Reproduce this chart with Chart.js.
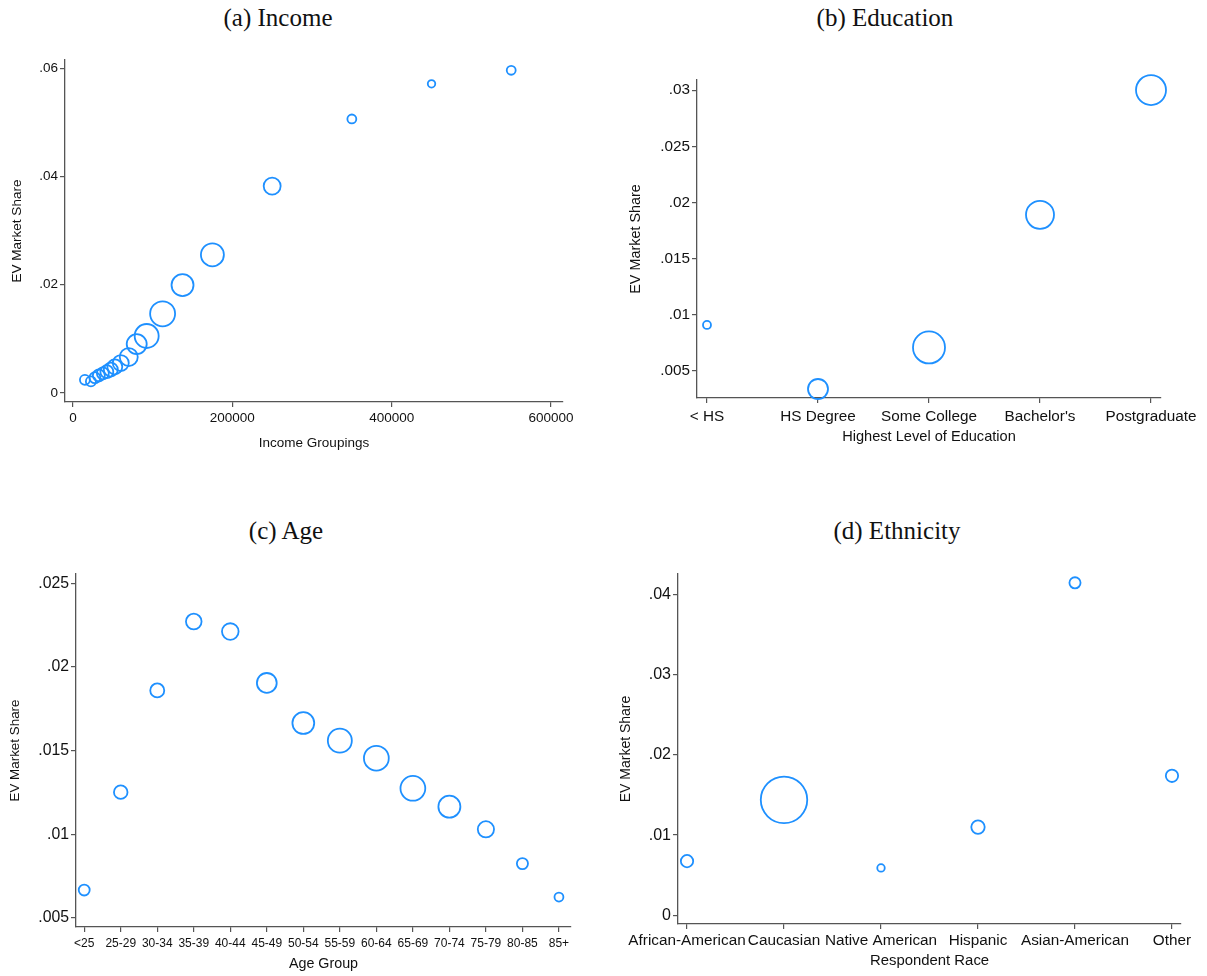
<!DOCTYPE html>
<html>
<head>
<meta charset="utf-8">
<script src="https://cdn.jsdelivr.net/npm/chart.js@4.4.1/dist/chart.umd.min.js"></script>
<style>
  body { margin: 0; background: #fff; width: 1207px; height: 976px; position: relative; overflow: hidden; }
  .box { position: absolute; }
  .ttl { position: absolute; font-family: "Liberation Serif", serif; font-size: 25px; color: #111; transform: translate(-50%, -50%); white-space: nowrap; }
</style>
</head>
<body>
<div class="ttl" style="left:278px;top:18px">(a) Income</div>
<div class="ttl" style="left:885px;top:18px">(b) Education</div>
<div class="ttl" style="left:286px;top:531px">(c) Age</div>
<div class="ttl" style="left:897px;top:531px">(d) Ethnicity</div>

<div class="box" style="left:0px;top:50px;width:575px;height:410px"><canvas id="income"></canvas></div>
<div class="box" style="left:600px;top:50px;width:600px;height:410px"><canvas id="educ"></canvas></div>
<div class="box" style="left:0px;top:560px;width:580px;height:416px"><canvas id="age"></canvas></div>
<div class="box" style="left:600px;top:560px;width:600px;height:416px"><canvas id="race"></canvas></div>

<script>
// (a) income
var incomeX = [15000, 22500, 27500, 32500, 37500, 42500, 47500, 52500, 60000, 70000, 80000, 92500, 112500, 137500, 175000, 250000, 350000, 450000, 550000];
var incomeShare = [0.0024, 0.0021, 0.0028, 0.0032, 0.0036, 0.0039, 0.0043, 0.0048, 0.0055, 0.0066, 0.0090, 0.0105, 0.0146, 0.0199, 0.0255, 0.0382, 0.0506, 0.0571, 0.0596];
var incomeWeight = [25, 25, 30, 36, 36, 42, 49, 56, 64, 81, 100, 144, 156, 121, 132, 72, 20, 14, 20];
var incomeXTicks = [0, 200000, 400000, 600000];
var incomeYTicks = [0, 0.02, 0.04, 0.06];

// (b) education
var educLabels = ['< HS', 'HS Degree', 'Some College', "Bachelor's", 'Postgraduate'];
var educShare = [0.0091, 0.0034, 0.0071, 0.0189, 0.0300];
var educWeight = [16, 100, 256, 196, 225];
var educYTicks = [0.005, 0.01, 0.015, 0.02, 0.025, 0.03];

// (c) age
var ageLabels = ['<25', '25-29', '30-34', '35-39', '40-44', '45-49', '50-54', '55-59', '60-64', '65-69', '70-74', '75-79', '80-85', '85+'];
var ageShare = [0.00667, 0.01252, 0.01860, 0.02272, 0.02212, 0.01905, 0.01665, 0.01560, 0.01455, 0.01275, 0.01165, 0.01030, 0.00825, 0.00625];
var ageWeight = [30, 46, 49, 61, 69, 98, 119, 144, 154, 154, 121, 66, 31, 20];
var ageYTicks = [0.005, 0.01, 0.015, 0.02, 0.025];

// (d) ethnicity
var raceLabels = ['African-American', 'Caucasian', 'Native American', 'Hispanic', 'Asian-American', 'Other'];
var raceShare = [0.00675, 0.0144, 0.0059, 0.0110, 0.0415, 0.0174];
var raceWeight = [38, 540, 14, 45, 31, 38];
var raceYTicks = [0, 0.01, 0.02, 0.03, 0.04];

var blue = 'rgb(30,144,255)';
var axisGrey = '#555';
var sans = 'Liberation Sans, Arial, sans-serif';

function stataNum(v) {
    if (v === 0) return '0';
    return String(+v.toFixed(4)).replace(/^0\./, '.');
}

function points(xs, ys, ws) {
    return xs.map(function (x, i) {
        return { x: x, y: ys[i], r: Math.sqrt(ws[i]) };
    });
}

function makeChart(id, o) {
    var ctx = document.getElementById(id).getContext('2d');
    return new Chart(ctx, {
        type: 'bubble',
        data: {
            datasets: [{
                data: o.data,
                backgroundColor: 'rgba(0,0,0,0)',
                borderColor: blue,
                borderWidth: 1.8,
                clip: false
            }]
        },
        options: {
            responsive: true,
            maintainAspectRatio: false,
            animation: false,
            events: [],
            layout: { padding: o.pad, autoPadding: false },
            plugins: { legend: { display: false }, tooltip: { enabled: false } },
            scales: {
                x: {
                    type: 'linear',
                    min: o.xMin, max: o.xMax,
                    border: { color: axisGrey, width: 1.3 },
                    grid: { drawOnChartArea: false, tickLength: 5, color: axisGrey, lineWidth: 1.2 },
                    ticks: {
                        color: '#111', padding: o.xTickPad,
                        font: { family: sans, size: o.xTickSize },
                        maxRotation: 0, autoSkip: false,
                        callback: o.xFmt
                    },
                    afterBuildTicks: function (s) { s.ticks = o.xTicks.map(function (v) { return { value: v }; }); },
                    afterFit: function (s) { s.height = o.xHeight; s.paddingLeft = 0; s.paddingRight = 0; },
                    title: { display: true, text: o.xTitle, color: '#111', font: { family: sans, size: o.xTitleSize }, padding: { top: 0, bottom: o.xTitlePad } }
                },
                y: {
                    type: 'linear',
                    min: o.yMin, max: o.yMax,
                    border: { color: axisGrey, width: 1.3 },
                    grid: { drawOnChartArea: false, tickLength: 5, color: axisGrey, lineWidth: 1.2 },
                    ticks: {
                        color: '#111', padding: 2,
                        font: { family: sans, size: o.yTickSize },
                        callback: function (v) { return stataNum(v); }
                    },
                    afterBuildTicks: function (s) { s.ticks = o.yTicks.map(function (v) { return { value: v }; }); },
                    afterFit: function (s) { s.width = o.yWidth; s.paddingTop = 0; s.paddingBottom = 0; },
                    title: { display: true, text: 'EV Market Share', color: '#111', font: { family: sans, size: o.yTitleSize }, padding: { top: o.yTitlePad, bottom: 0 } }
                }
            }
        }
    });
}

function idx(arr) { return arr.map(function (_, i) { return i; }); }

makeChart('income', {
    data: points(incomeX, incomeShare, incomeWeight),
    pad: { top: 10, right: 12, left: 0, bottom: 0 },
    xMin: -10000, xMax: 615000, xTicks: incomeXTicks,
    xFmt: function (v) { return String(v); },
    xHeight: 58, xTickPad: 3, xTickSize: 13.5, xTitle: 'Income Groupings', xTitleSize: 13.5, xTitlePad: 9,
    yMin: -0.0017, yMax: 0.0615, yTicks: incomeYTicks, yWidth: 65, yTickSize: 13.5, yTitleSize: 13.5, yTitlePad: 9
});

makeChart('educ', {
    data: points(idx(educLabels), educShare, educWeight),
    pad: { top: 30, right: 39, left: 0, bottom: 0 },
    xMin: -0.09, xMax: 4.09, xTicks: idx(educLabels),
    xFmt: function (v) { return educLabels[v]; },
    xHeight: 62, xTickPad: 5, xTickSize: 15.3, xTitle: 'Highest Level of Education', xTitleSize: 14.6, xTitlePad: 14,
    yMin: 0.0026, yMax: 0.0309, yTicks: educYTicks, yWidth: 97, yTickSize: 15.3, yTitleSize: 14.4, yTitlePad: 27
});

makeChart('age', {
    data: points(idx(ageLabels), ageShare, ageWeight),
    pad: { top: 14, right: 9, left: 0, bottom: 0 },
    xMin: -0.225, xMax: 13.33, xTicks: idx(ageLabels),
    xFmt: function (v) { return ageLabels[v]; },
    xHeight: 49, xTickPad: 4, xTickSize: 12, xTitle: 'Age Group', xTitleSize: 14.3, xTitlePad: 3,
    yMin: 0.00446, yMax: 0.02556, yTicks: ageYTicks, yWidth: 76, yTickSize: 15.8, yTitleSize: 13.4, yTitlePad: 7
});

makeChart('race', {
    data: points(idx(raceLabels), raceShare, raceWeight),
    pad: { top: 14, right: 19, left: 0, bottom: 0 },
    xMin: -0.093, xMax: 5.093, xTicks: idx(raceLabels),
    xFmt: function (v) { return raceLabels[v]; },
    xHeight: 52, xTickPad: 3, xTickSize: 15.3, xTitle: 'Respondent Race', xTitleSize: 14.9, xTitlePad: 6,
    yMin: -0.0011, yMax: 0.0426, yTicks: raceYTicks, yWidth: 78, yTickSize: 16, yTitleSize: 14, yTitlePad: 18
});
</script>
</body>
</html>
